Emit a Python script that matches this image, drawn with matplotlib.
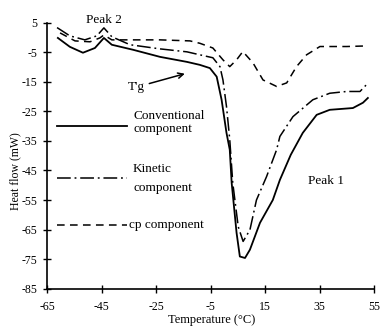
import matplotlib
matplotlib.use("Agg")
import matplotlib.pyplot as plt

plt.rcParams['font.family'] = ['Liberation Serif', 'DejaVu Serif']

# Conventional (total) heat flow
conv_t = [-61.1, -56.7, -51.9, -47.5, -44.2, -41.3, -33.5, -23.6, -13.7, -9.0, -5.3, -2.8,
          -1.0, 0.8, 2.0, 2.7, 4.5, 5.7, 7.6, 9.4, 13.1, 17.8, 20.4, 24.4, 28.8, 33.9,
          38.7, 47.2, 50.9, 52.7]
conv_q = [-0.2, -3.2, -5.2, -3.6, -0.2, -2.5, -4.2, -6.6, -8.3, -9.3, -10.4, -13.3,
          -21.1, -32.3, -38.0, -49.2, -66.1, -74.1, -74.6, -71.8, -62.7, -55.0, -48.2,
          -39.7, -32.3, -26.2, -24.5, -23.9, -22.1, -20.5]

# Kinetic component
kin_t = [-61.4, -56.7, -51.2, -46.8, -44.2, -41.3, -34.6, -23.6, -13.7, -9.0, -4.2, -1.6,
         -0.5, 0.8, 2.0, 3.1, 5.1, 6.9, 9.4, 11.8, 15.5, 19.2, 20.4, 25.2, 32.5, 38.7,
         44.9, 49.8, 52.7]
kin_q = [3.3, 0.5, -0.85, 0.5, 3.2, 0.2, -2.5, -3.9, -4.9, -5.9, -6.9, -9.9,
         -14.4, -23.4, -34.6, -49.2, -64.0, -69.0, -65.1, -55.0, -47.1, -38.0, -33.5,
         -26.8, -21.1, -18.9, -18.3, -18.3, -15.5]

# cp component
cp_t = [-60.3, -54.8, -49.3, -45.7, -44.2, -41.3, -34.6, -23.6, -12.6, -9.0, -4.2, -0.5,
        2.0, 4.5, 6.8, 10.5, 14.2, 19.2, 22.9, 26.5, 30.2, 35.1, 44.9, 52.2]
cp_q = [1.5, -1.2, -1.5, -0.2, 0.8, -0.85, -0.85, -0.85, -1.2, -2.0, -3.6, -7.6,
        -9.9, -7.6, -4.8, -8.6, -14.4, -16.6, -15.4, -9.9, -5.9, -3.1, -3.1, -2.9]

x_ticks = [-65, -45, -25, -5, 15, 35, 55]
y_ticks = [5, -5, -15, -25, -35, -45, -55, -65, -75, -85]

fig = plt.figure(figsize=(3.81, 3.27), dpi=100)
ax = fig.add_axes([0.124, 0.117, 0.858, 0.814])

ax.plot(conv_t, conv_q, color='black', lw=1.3, ls='-')
ax.plot(kin_t, kin_q, color='black', lw=1.1, ls=(0, (9, 2.5, 1.2, 2.5)))
ax.plot(cp_t, cp_q, color='black', lw=1.1, ls=(0, (5, 3.5)))

# hand-drawn legend inside the plot
ax.plot([-61.4, -35.7], [-29.9, -29.9], color='black', lw=1.3, ls='-')
ax.plot([-61.4, -35.7], [-47.6, -47.6], color='black', lw=1.1, ls=(0, (9, 2.5, 1.2, 2.5)))
ax.plot([-61.4, -35.7], [-63.4, -63.4], color='black', lw=1.1, ls=(0, (5, 3.5)))
fs = 9.5
ax.text(-33.5, -26.6, 'Conventional', fontsize=fs, va='center', ha='left')
ax.text(-33.5, -31.0, 'component', fontsize=fs, va='center', ha='left')
ax.text(-33.5, -44.6, 'Kinetic', fontsize=fs, va='center', ha='left')
ax.text(-33.5, -50.8, 'component', fontsize=fs, va='center', ha='left')
ax.text(-35.0, -63.4, 'cp component', fontsize=fs, va='center', ha='left')

ax.text(-44.2, 6.0, 'Peak 2', fontsize=fs, ha='center', va='center', clip_on=False)
ax.text(30.7, -48.7, 'Peak 1', fontsize=fs, ha='left', va='center')
ax.annotate("T'g", xy=(-14.5, -12.3), xytext=(-35.3, -16.8), fontsize=fs,
            va='center', ha='left',
            arrowprops=dict(arrowstyle='->', color='black', lw=1.1,
                            shrinkA=1, shrinkB=0))

ax.set_xlim(-65, 55)
ax.set_ylim(-85, 5)
ax.set_xticks(x_ticks)
ax.set_yticks(y_ticks)
ax.set_xticklabels([str(v) for v in x_ticks])
ax.set_yticklabels([str(v) for v in y_ticks])
ax.spines['top'].set_visible(False)
ax.spines['right'].set_visible(False)
ax.spines['left'].set_linewidth(1.2)
ax.spines['bottom'].set_linewidth(1.2)
ax.tick_params(direction='inout', length=6, width=1.0, labelsize=8.5, pad=4)
ax.tick_params(axis='x', pad=6)

fig.text(0.04, 0.476, 'Heat flow (mW)', rotation=90, fontsize=8.5, ha='center', va='center')
fig.text(0.556, 0.02, 'Temperature (\u00b0C)', fontsize=9, ha='center', va='center')

fig.savefig('out.png', dpi=100)
